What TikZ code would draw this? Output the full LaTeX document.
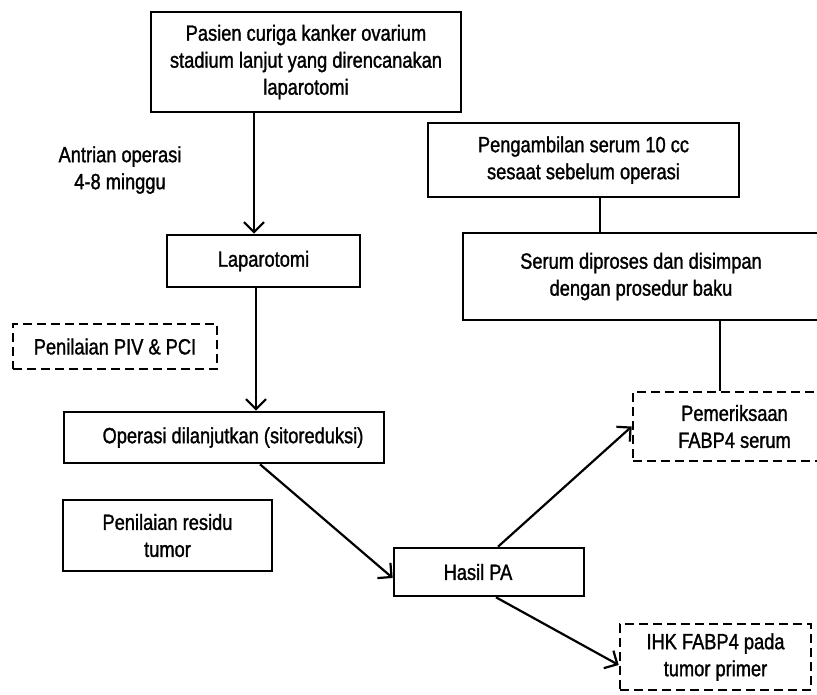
\documentclass[tikz,border=0pt]{standalone}
\usepackage{fontspec}
\setmainfont{Liberation Sans}[FakeStretch=0.83, FakeBold=1.3]
\usepackage{tikz}
\usetikzlibrary{arrows.meta}
\tikzstyle{box} = [rectangle, draw = black, line width = 2.6pt, align = center, font = \fontsize{22}{27}\selectfont]
\tikzstyle{dashbox} = [box, dash pattern = on 9pt off 5pt]
\tikzstyle{note} = [align = center, font = \fontsize{22}{27}\selectfont]

\begin{document}
\begin{tikzpicture}[x = 1pt, y = -1pt, node distance = 0pt, line width = 2.2pt, >={Straight Barb[length = 10pt, width = 20pt]}]
	\useasboundingbox (0,0) rectangle (817,694);
	\node (top)[box, minimum width = 310pt, minimum height = 100pt] at (306,62) {Pasien curiga kanker ovarium\\stadium lanjut yang direncanakan\\laparotomi};
	\node (lap)[box, below of = top, xshift = -42.5pt, yshift = -199pt, minimum width = 193pt, minimum height = 52pt]{Laparotomi};
	\node (wait)[note, below of = top, xshift = -186pt, yshift = -108pt]{Antrian operasi\\4-8 minggu};
	\node (piv)[dashbox, below of = lap, xshift = -148.5pt, yshift = -85.5pt, minimum width = 204pt, minimum height = 45pt]{Penilaian PIV \& PCI};
	\node (op)[box, below of = lap, xshift = -39.5pt, yshift = -176.5pt, minimum width = 320pt, minimum height = 51pt]{\hspace{18pt}Operasi dilanjutkan (sitoreduksi)};
	\node (res)[box, below of = op, xshift = -56.5pt, yshift = -98pt, minimum width = 209pt, minimum height = 71pt]{Penilaian residu\\tumor};
	\node (pa)[box, below of = op, xshift = 265pt, yshift = -134.5pt, minimum width = 190pt, minimum height = 48pt]{Hasil PA\hspace{22pt}};
	\node (ambil)[box, right of = top, xshift = 277.5pt, yshift = -98pt, minimum width = 311pt, minimum height = 74pt]{Pengambilan serum 10 cc\\sesaat sebelum operasi};
	\node (serum)[box, below of = ambil, xshift = 57.5pt, yshift = -116.5pt, minimum width = 356pt, minimum height = 87pt]{Serum diproses dan disimpan\\dengan prosedur baku};
	\node (pem)[dashbox, below of = serum, xshift = 93.5pt, yshift = -150pt, minimum width = 203pt, minimum height = 69pt]{Pemeriksaan\\FABP4 serum};
	\node (ihk)[dashbox, below of = pa, xshift = 226.5pt, yshift = -85pt, minimum width = 191pt, minimum height = 66pt]{IHK FABP4 pada\\tumor primer};

	\draw [->] ([xshift = -9.5pt]lap.north |- top.south) -- ([xshift = -9.5pt]lap.north);
	\draw [->] ([xshift = -7.5pt]lap.south) -- ([xshift = -7.5pt]lap.south |- op.north);
	\draw [->] ([xshift = 36pt]op.south) -- ([yshift = -6pt]pa.west);
	\draw [->] ([xshift = 9pt]pa.north) -- (pem.west);
	\draw [->] ([xshift = 7pt]pa.south) -- ([yshift = -8pt]ihk.west);

	\draw ([xshift = 16.5pt]ambil.south) -- ([xshift = 16.5pt]ambil.south |- serum.north);
	\draw ([xshift = 79pt]serum.south) -- ([xshift = 79pt]serum.south |- pem.north);
\end{tikzpicture}
\end{document}
